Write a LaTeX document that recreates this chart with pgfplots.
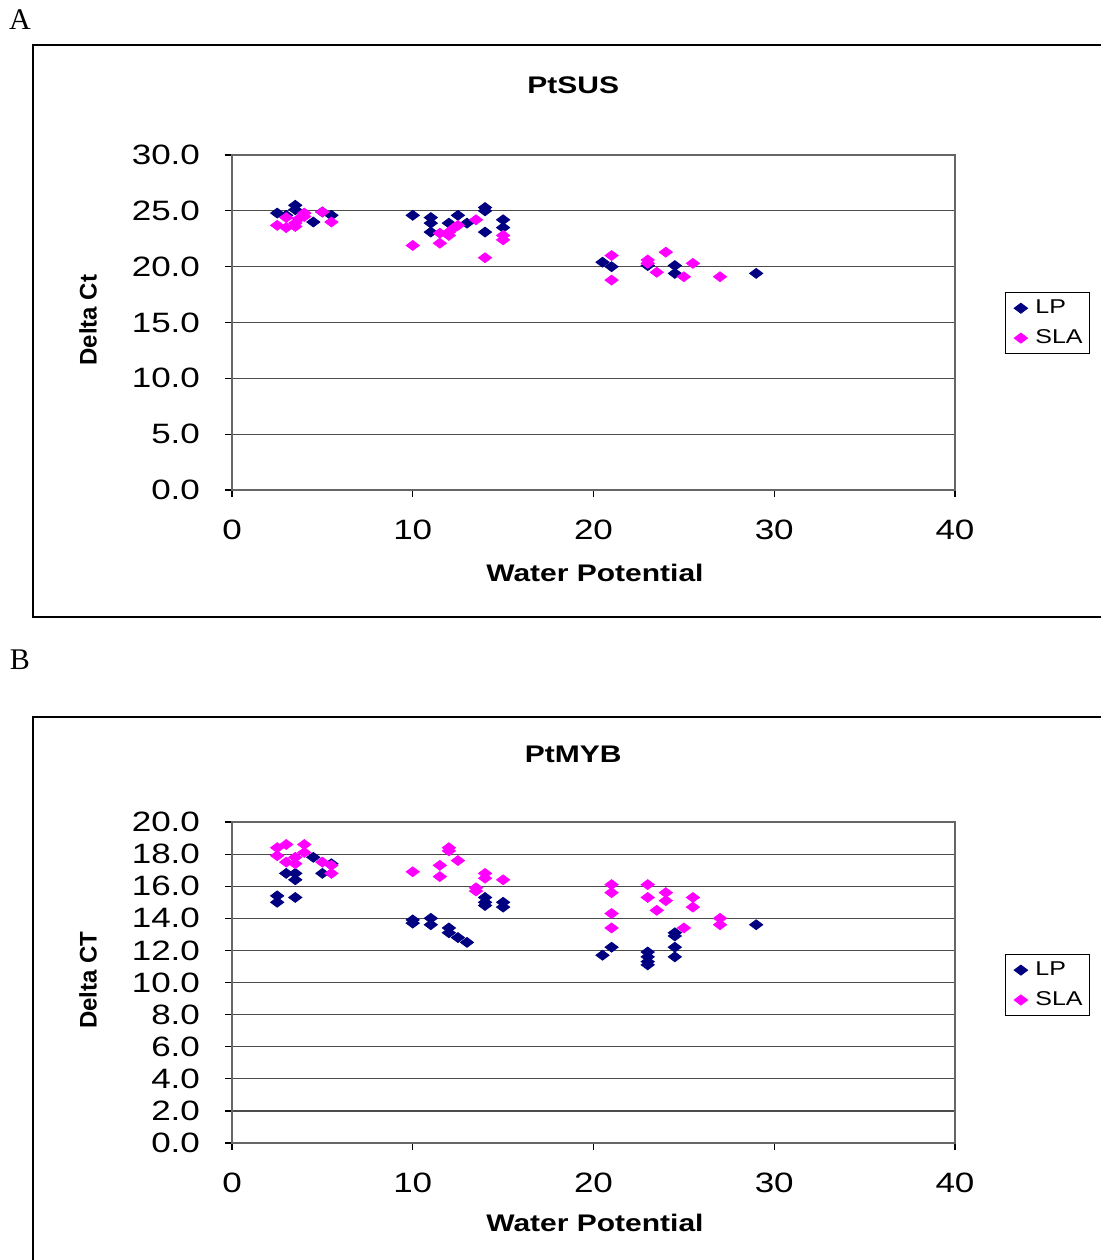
\documentclass[border=0pt]{standalone}
\usepackage{fontspec}
\usepackage{pgfplots}
\pgfplotsset{compat=1.18}
\setmainfont{Liberation Serif}
\newfontfamily\arialw[FakeStretch=1.25]{Liberation Sans}
\newfontfamily\arialn{Liberation Sans}
\definecolor{lpblue}{RGB}{0,0,128}
\definecolor{slapink}{RGB}{255,0,255}

\pgfplotsset{
  excelpanel/.style={
    scale only axis, anchor=south west,
    width=361.5pt, xmin=0, xmax=40, xtick={0,10,...,40}, ymin=0,
    axis line style={black!60, line width=0.6pt},
    ymajorgrids, grid style={black!70, line width=0.6pt},
    tick align=outside, major tick length=3.5pt,
    xtick pos=bottom, ytick pos=left,
    tick style={black, line width=0.6pt},
    /pgf/number format/assume math mode=true,
    ticklabel style={font=\arialw\fontsize{14pt}{16pt}\selectfont},
    xticklabel style={anchor=center, yshift=-16.3pt},
    yticklabel style={anchor=east, xshift=-9pt, /pgf/number format/.cd, fixed, fixed zerofill, precision=1},
    title style={anchor=center, font=\arialw\bfseries\fontsize{12pt}{14pt}\selectfont},
    xlabel style={at={(axis description cs:0.502,-0.248)}, anchor=center, font=\arialw\bfseries\fontsize{12pt}{14pt}\selectfont},
    ylabel style={at={(axis description cs:-0.199,0.507)}, anchor=center, rotate=0, font=\arialn\bfseries\fontsize{12pt}{14pt}\selectfont},
    legend style={draw=black, line width=0.5pt, font=\arialw\fontsize{10pt}{12pt}\selectfont,
      anchor=north west, cells={anchor=west}, inner xsep=1.5pt, inner ysep=1.5pt, row sep=2.5pt},
    legend image code/.code={\path (-6pt,0) (5pt,0); \draw[##1] plot coordinates {(0pt,0pt)};},
    clip=false,
  },
  lp/.style={only marks, mark=diamond*, mark size=3.3pt, color=lpblue, mark options={rotate=90}},
  sla/.style={only marks, mark=diamond*, mark size=3.3pt, color=slapink, mark options={rotate=90}},
}

\begin{document}
\begin{tikzpicture}
\path[use as bounding box] (0,0) rectangle (550.5pt,-630pt);
\clip (0,0) rectangle (550.5pt,-630pt);

% panel frames and letters
\draw[line width=1pt] (16.5pt,-22.5pt) rectangle (560pt,-308.5pt);
\draw[line width=1pt] (16.5pt,-358.5pt) rectangle (560pt,-640pt);
\node[font=\fontsize{15pt}{17pt}\selectfont] at (10pt,-10pt) {A};
\node[font=\fontsize{15pt}{17pt}\selectfont] at (10pt,-330pt) {B};

% A: PtSUS
\begin{axis}[excelpanel, at={(116pt,-245pt)}, height=167.5pt,
  ymax=30, ytick={0,5,...,30},
  title={PtSUS}, title style={at={(axis description cs:0.472,1.173)}},
  xlabel={Water Potential}, ylabel={Delta Ct},
  legend style={at={(axis description cs:1.069,0.590)}}]
\addplot[lp] coordinates {
  (2.5,24.8) (3,24.6) (3.5,25.1) (3.5,25.5) (4.5,24.0) (5,24.9) (5.5,24.6)
  (10,24.6) (11,24.4) (11,23.9) (11,23.1) (12,23.9) (12.5,24.6) (13,23.9)
  (14,25.0) (14,25.3) (14,23.1) (15,24.2) (15,23.5)
  (20.5,20.4) (21,20.0) (23,20.1) (24.5,20.1) (24.5,19.4) (29,19.4)};
\addplot[sla] coordinates {
  (2.5,23.7) (3,23.5) (3,24.4) (3.5,23.6) (3.5,23.9) (3.7,24.3) (4,24.5) (4,24.8)
  (5,24.9) (5.5,24.0)
  (10,21.9) (11.5,23.0) (11.5,22.1) (12,23.1) (12,22.8) (12.3,23.5) (12.5,23.7)
  (13.5,24.2) (14,20.8) (15,22.8) (15,22.4)
  (21,21.0) (21,18.8) (23,20.6) (23,20.3) (23.5,19.5) (24,21.3) (25,19.1)
  (25.5,20.3) (27,19.1)};
\legend{LP,SLA}
\end{axis}

% B: PtMYB
\begin{axis}[excelpanel, at={(116pt,-571.5pt)}, height=160.5pt,
  ymax=20, ytick={0,2,...,20},
  title={PtMYB}, title style={at={(axis description cs:0.472,1.172)}},
  xlabel={Water Potential}, ylabel={Delta CT},
  legend style={at={(axis description cs:1.069,0.588)}}]
\addplot[lp] coordinates {
  (2.5,15.4) (2.5,15.0) (3,16.8) (3.5,16.8) (3.5,16.4) (3.5,15.3) (4.5,17.8)
  (5,16.8) (5.5,17.4)
  (10,13.9) (10,13.7) (11,14.0) (11,13.6) (12,13.4) (12,13.1) (12.5,12.8)
  (13,12.5) (14,15.3) (14,15.0) (14,14.8) (15,15.0) (15,14.7)
  (20.5,11.7) (21,12.2) (23,11.9) (23,11.6) (23,11.3) (23,11.1) (24.5,13.1)
  (24.5,12.9) (24.5,12.2) (24.5,11.6) (29,13.6)};
\addplot[sla] coordinates {
  (2.5,18.4) (2.5,17.9) (3,18.6) (3,17.5) (3.5,17.8) (3.5,17.4) (4,18.6)
  (4,18.1) (5,17.5) (5.5,17.3) (5.5,16.8)
  (10,16.9) (11.5,17.3) (11.5,16.6) (12,18.4) (12,18.2) (12.5,17.6)
  (13.5,15.9) (13.5,15.7) (14,16.8) (14,16.5) (15,16.4)
  (21,16.1) (21,15.6) (21,14.3) (21,13.4) (23,16.1) (23,15.3) (23.5,14.5)
  (24,15.6) (24,15.1) (25,13.4) (25.5,15.3) (25.5,14.7) (27,14.0) (27,13.6)};
\legend{LP,SLA}
\end{axis}
\end{tikzpicture}
\end{document}
